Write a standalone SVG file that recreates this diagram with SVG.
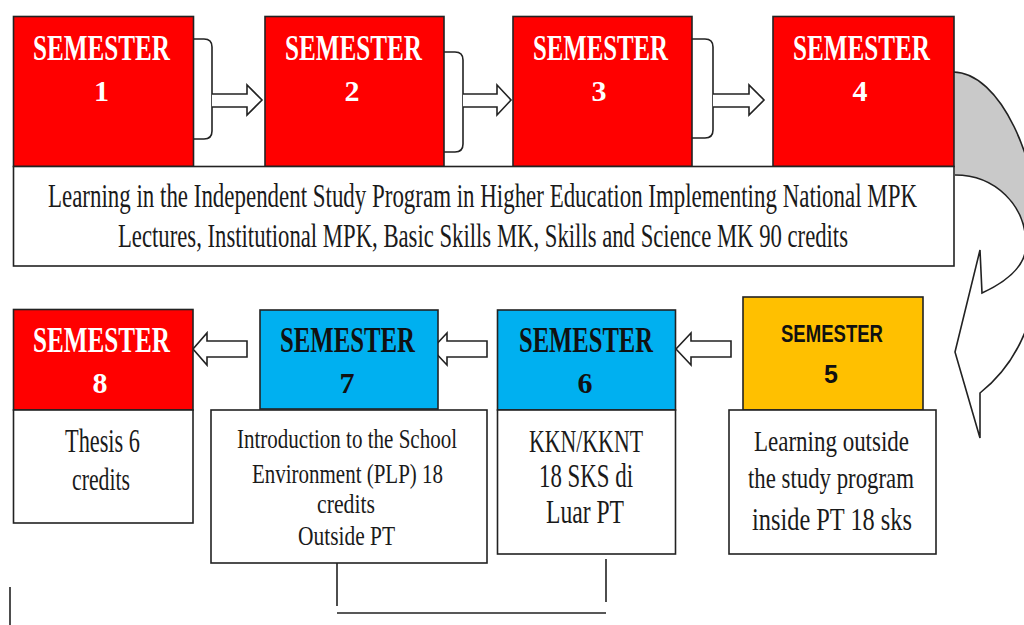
<svg xmlns="http://www.w3.org/2000/svg" width="1024" height="625" viewBox="0 0 1024 625">
<style>
.box{stroke:#222;stroke-width:1.6}
.red{fill:#FF0000}
.blue{fill:#00B0F0}
.yel{fill:#FFC000}
.wht{fill:#FFFFFF}
.ln{fill:none;stroke:#222;stroke-width:1.6}
.arr{fill:#FFFFFF;stroke:#222;stroke-width:1.6;stroke-linejoin:miter}
.hd{font-family:"Liberation Serif","Times New Roman",serif;font-weight:bold;font-size:25px}
.num{font-family:"Liberation Serif","Times New Roman",serif;font-weight:bold;font-size:30px;text-anchor:middle}
.hds{font-family:"Liberation Sans",Arial,sans-serif;font-weight:bold}
.w{fill:#FFFFFF}
.k{fill:#111111}
.tx{font-family:"Liberation Serif","Times New Roman",serif;fill:#1a1a1a}
</style>
<rect width="1024" height="625" fill="#FFFFFF"/>

<g id="curved-arrow">
  <path d="M953,72 C1000,72 1040,160 1040,246 L1026,245 C1026,205 995,175 955,175 Z" fill="#C9C9C9"/>
  <path d="M1040,246 C1040,320 1015,365 980,393 L980,438 L955,352 L980,250 L982,293 C1010,280 1026,265 1026,245 Z" fill="#FFFFFF"/>
  <path class="ln" d="M953,72 C1000,72 1040,160 1040,246 C1040,320 1015,365 980,393 L980,438 L955,352 L980,250 L982,293 C1010,280 1026,265 1026,245 C1026,205 995,175 955,175"/>
</g>

<g id="connectors">
  <path class="ln" d="M193,39 H204 Q212,39 212,47 V131 Q212,139 204,139 H193"/>
  <path class="arr" d="M212,94 H247 V85 L262,100 L247,115 V107 H212"/>
  <path class="ln" d="M444,52 H455 Q463,52 463,60 V144 Q463,152 455,152 H444"/>
  <path class="arr" d="M463,94 H497 V85 L511,100 L497,115 V107 H463"/>
  <path class="ln" d="M692,39 H705 Q713,39 713,47 V130 Q713,138 705,138 H692"/>
  <path class="arr" d="M713,94 H749 V85 L764,100 L749,115 V107 H713"/>
  <path class="arr" d="M247,341 H207 V333 L193,349 L207,365 V357 H247 Z"/>
  <path class="arr" d="M487,341 H447 V333 L432,349 L447,365 V357 H487 Z"/>
  <path class="arr" d="M731,341 H691 V333 L676,349 L691,365 V357 H731 Z"/>
  <path class="ln" d="M337,563 V606 M606,559 V602 M337,613 H606 M10,587 V625"/>
</g>

<g id="semester-1">
  <rect class="box red" x="13.5" y="16.5" width="180" height="150"/>
  <text class="hd w" transform="translate(33,60) scale(1,1.39)" textLength="137" lengthAdjust="spacingAndGlyphs">SEMESTER</text>
  <text class="num w" x="101.5" y="101">1</text>
</g>
<g id="semester-2">
  <rect class="box red" x="265" y="16.5" width="179" height="150"/>
  <text class="hd w" transform="translate(285,60) scale(1,1.39)" textLength="137" lengthAdjust="spacingAndGlyphs">SEMESTER</text>
  <text class="num w" x="352" y="101">2</text>
</g>
<g id="semester-3">
  <rect class="box red" x="513" y="16.5" width="179" height="150"/>
  <text class="hd w" transform="translate(533,60) scale(1,1.39)" textLength="135" lengthAdjust="spacingAndGlyphs">SEMESTER</text>
  <text class="num w" x="599" y="101">3</text>
</g>
<g id="semester-4">
  <rect class="box red" x="773" y="16.5" width="181" height="150"/>
  <text class="hd w" transform="translate(793,60) scale(1,1.39)" textLength="137" lengthAdjust="spacingAndGlyphs">SEMESTER</text>
  <text class="num w" x="860" y="101">4</text>
</g>
<g id="semester-1-4-content">
  <rect class="box wht" x="13.5" y="166.5" width="940.5" height="99.5"/>
  <text class="tx" font-size="22.8" transform="translate(48,207) scale(1,1.44)" textLength="869" lengthAdjust="spacingAndGlyphs">Learning in the Independent Study Program in Higher Education Implementing National MPK</text>
  <text class="tx" font-size="22.8" transform="translate(118,247) scale(1,1.44)" textLength="730" lengthAdjust="spacingAndGlyphs">Lectures, Institutional MPK, Basic Skills MK, Skills and Science MK 90 credits</text>
</g>

<g id="semester-8">
  <rect class="box red" x="13.5" y="309.5" width="179.5" height="100.5"/>
  <rect class="box wht" x="13.5" y="410" width="179.5" height="113"/>
  <text class="hd w" transform="translate(33,352) scale(1,1.39)" textLength="137" lengthAdjust="spacingAndGlyphs">SEMESTER</text>
  <text class="num w" x="100" y="393">8</text>
  <text class="tx" font-size="22.3" transform="translate(65,452) scale(1,1.48)" textLength="75" lengthAdjust="spacingAndGlyphs">Thesis 6</text>
  <text class="tx" font-size="21.8" transform="translate(72,490) scale(1,1.48)" textLength="58" lengthAdjust="spacingAndGlyphs">credits</text>
</g>
<g id="semester-7">
  <rect class="box blue" x="260" y="310" width="178" height="99"/>
  <rect class="box wht" x="211" y="410" width="276" height="153"/>
  <text class="hd k" transform="translate(280,352) scale(1,1.39)" textLength="135" lengthAdjust="spacingAndGlyphs">SEMESTER</text>
  <text class="num k" x="347" y="393">7</text>
  <text class="tx" font-size="21" transform="translate(237,448) scale(1,1.3)" textLength="220" lengthAdjust="spacingAndGlyphs">Introduction to the School</text>
  <text class="tx" font-size="21" transform="translate(252,483) scale(1,1.3)" textLength="191" lengthAdjust="spacingAndGlyphs">Environment (PLP) 18</text>
  <text class="tx" font-size="21.5" transform="translate(317,513) scale(1,1.3)" textLength="58" lengthAdjust="spacingAndGlyphs">credits</text>
  <text class="tx" font-size="21.4" transform="translate(298,545) scale(1,1.3)" textLength="97" lengthAdjust="spacingAndGlyphs">Outside PT</text>
</g>
<g id="semester-6">
  <rect class="box blue" x="497.5" y="310" width="178" height="100"/>
  <rect class="box wht" x="497.5" y="410" width="178" height="144"/>
  <text class="hd k" transform="translate(519,352) scale(1,1.39)" textLength="134" lengthAdjust="spacingAndGlyphs">SEMESTER</text>
  <text class="num k" x="585" y="393">6</text>
  <text class="tx" font-size="21.8" transform="translate(529,452) scale(1,1.45)" textLength="114" lengthAdjust="spacingAndGlyphs">KKN/KKNT</text>
  <text class="tx" font-size="22.9" transform="translate(539,487) scale(1,1.45)" textLength="94" lengthAdjust="spacingAndGlyphs">18 SKS di</text>
  <text class="tx" font-size="23.6" transform="translate(546,523) scale(1,1.45)" textLength="78" lengthAdjust="spacingAndGlyphs">Luar PT</text>
</g>
<g id="semester-5">
  <rect class="box yel" x="743" y="297" width="180" height="113"/>
  <rect class="box wht" x="729" y="410" width="207" height="144"/>
  <text class="hds k" font-size="18.5" transform="translate(781,342) scale(1,1.28)" textLength="102" lengthAdjust="spacingAndGlyphs">SEMESTER</text>
  <text class="hds k" x="831" y="383" font-size="25" text-anchor="middle">5</text>
  <text class="tx" font-size="23" transform="translate(754,451) scale(1,1.32)" textLength="155" lengthAdjust="spacingAndGlyphs">Learning outside</text>
  <text class="tx" font-size="22.8" transform="translate(748,488) scale(1,1.32)" textLength="166" lengthAdjust="spacingAndGlyphs">the study program</text>
  <text class="tx" font-size="24" transform="translate(752,530) scale(1,1.32)" textLength="160" lengthAdjust="spacingAndGlyphs">inside PT 18 sks</text>
</g>
</svg>
